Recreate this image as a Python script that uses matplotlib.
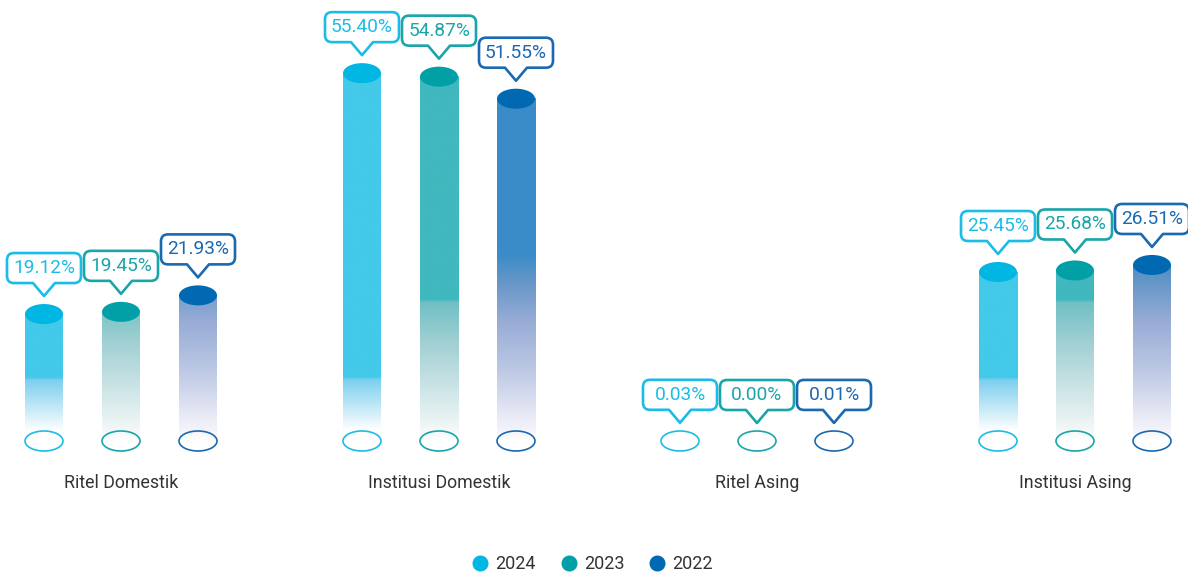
import numpy as np
import matplotlib
matplotlib.use('Agg')
from matplotlib import pyplot as plt
from matplotlib import transforms
from matplotlib.patches import Ellipse, PathPatch
from matplotlib.path import Path
from matplotlib.lines import Line2D
from matplotlib.colors import to_rgb

categories = ['Ritel Domestik', 'Institusi Domestik', 'Ritel Asing', 'Institusi Asing']
years = ['2024', '2023', '2022']
share_2024 = [19.12, 55.40, 0.03, 25.45]
share_2023 = [19.45, 54.87, 0.00, 25.68]
share_2022 = [21.93, 51.55, 0.01, 26.51]
series = [share_2024, share_2023, share_2022]

# outline / text colour, cap colour and the body gradient (value, colour) per year
edge_colors = ['#1bbde6', '#1aa5a9', '#1b69b0']
cap_colors = ['#00b6e2', '#00a0a6', '#0069b1']
body_stops = [
    [(0, '#ffffff'), (1.5, '#ffffff'), (9.2, '#7ccfee'), (9.6, '#43c9e9'), (80, '#43c9e9')],
    [(0, '#ffffff'), (1.5, '#f4f8f8'), (6, '#d8eaeb'), (14, '#a6d2d5'), (20.8, '#70c0c4'),
     (21.3, '#40b8be'), (80, '#40b8be')],
    [(0, '#ffffff'), (1.5, '#f4f4fa'), (4.7, '#e2e5f3'), (10.7, '#bcc8e4'), (18, '#98acd6'),
     (24, '#6496c8'), (28, '#3a8cc8'), (80, '#3a8cc8')],
]

PX_PER_UNIT = 6.64      # vertical pixels per percentage point
GROUP_PX = 318          # horizontal pixels between category groups
offset = 77 / GROUP_PX
bar_w = 38 / GROUP_PX
cap_h = 20 / PX_PER_UNIT

plt.rcParams['font.family'] = ['Roboto', 'DejaVu Sans']

fig = plt.figure(figsize=(11.88, 5.72), dpi=100)
ax = fig.add_axes([0, 0, 1, 1])
ax.axis('off')


def gradient(stops, vals):
    pos = [s[0] for s in stops]
    cols = np.array([to_rgb(s[1]) for s in stops])
    return np.stack([np.interp(vals, pos, cols[:, k]) for k in range(3)], axis=-1)


def callout(x, y, text, color):
    # rounded box with a pointer, sized in pixels, anchored on the bar top
    half, yb, yt, r, pw = 37, 13, 43, 7, 11
    verts = [(0, 0), (pw, yb), (half - r, yb), (half, yb), (half, yb + r),
             (half, yt - r), (half, yt), (half - r, yt), (-half + r, yt),
             (-half, yt), (-half, yt - r), (-half, yb + r), (-half, yb),
             (-half + r, yb), (-pw, yb), (0, 0)]
    codes = [Path.MOVETO, Path.LINETO, Path.LINETO, Path.CURVE3, Path.CURVE3,
             Path.LINETO, Path.CURVE3, Path.CURVE3, Path.LINETO,
             Path.CURVE3, Path.CURVE3, Path.LINETO, Path.CURVE3,
             Path.CURVE3, Path.LINETO, Path.CLOSEPOLY]
    tr = transforms.Affine2D().translate(0, 18) + transforms.ScaledTranslation(x, y, ax.transData)
    ax.add_patch(PathPatch(Path(verts, codes), transform=tr, facecolor='white',
                           edgecolor=color, lw=1.9, joinstyle='round', clip_on=False, zorder=5))
    ax.annotate(text, (x, y), xytext=(0, 18 + (yb + yt) / 2), textcoords='offset pixels',
                ha='center', va='center', fontsize=13.8, color=color, zorder=6)


for j, vals in enumerate(series):
    for i, v in enumerate(vals):
        x = i + (j - 1) * offset
        # faded cylinder body
        if v > 0:
            ys = np.linspace(0, v, 300)
            img = gradient(body_stops[j], ys)[:, None, :]
            ax.imshow(img, extent=(x - bar_w / 2, x + bar_w / 2, 0, v), origin='lower',
                      aspect='auto', interpolation='bilinear', zorder=2)
        # base ring
        ax.add_patch(Ellipse((x, 0), bar_w, cap_h, facecolor='none', edgecolor=edge_colors[j],
                             lw=1.2, zorder=3))
        # solid top cap
        if v > 1:
            ax.add_patch(Ellipse((x, v), bar_w, cap_h, facecolor=cap_colors[j],
                                 edgecolor='none', zorder=4))
        callout(x, v, f'{v:.2f}%', edge_colors[j])

for i, name in enumerate(categories):
    ax.text(i, -42 / PX_PER_UNIT, name, ha='center', va='center', fontsize=12.8, color='#333333')

handles = [Line2D([], [], ls='none', marker='o', markersize=10.5, color=c) for c in cap_colors]
fig.legend(handles, years, loc='center', bbox_to_anchor=(592 / 1188, 1 - 564 / 572), ncol=3,
           frameon=False, fontsize=13, labelcolor='#333333', handletextpad=0.35,
           columnspacing=1.3, handlelength=1.0)

ax.set_xlim(-121 / GROUP_PX, (1188 - 121) / GROUP_PX)
ax.set_ylim(-(572 - 441) / PX_PER_UNIT, 441 / PX_PER_UNIT)

plt.savefig('out.png', dpi=100)
